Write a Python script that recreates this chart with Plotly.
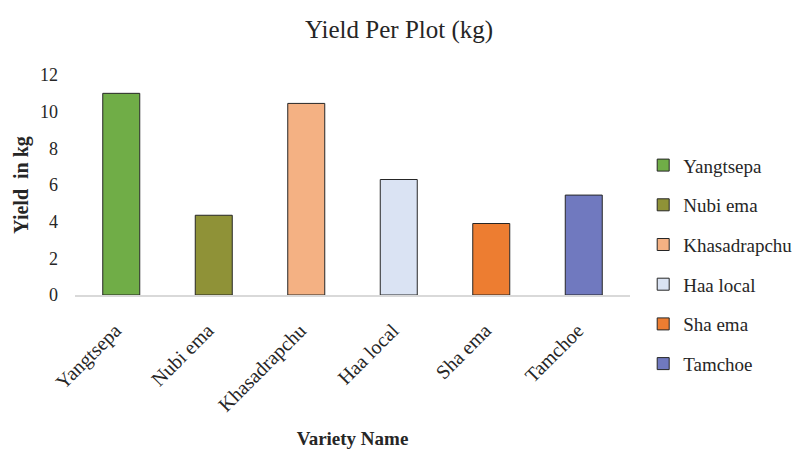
import plotly.graph_objects as go

# Yield per plot for each chilli variety
varieties = ["Yangtsepa", "Nubi ema", "Khasadrapchu", "Haa local", "Sha ema", "Tamchoe"]
yield_kg = [11.0, 4.35, 10.45, 6.3, 3.9, 5.45]
bar_colors = ["#70AD47", "#8F9237", "#F4B183", "#DAE3F3", "#ED7D31", "#7079BF"]
y_ticks = [0, 2, 4, 6, 8, 10, 12]

FONT = "Liberation Serif, Times New Roman, serif"
INK = "#262626"

fig = go.Figure()
for name, val, col in zip(varieties, yield_kg, bar_colors):
    fig.add_trace(go.Bar(
        x=[name], y=[val], name=name, legendgroup=name,
        marker=dict(color=col, line=dict(color=INK, width=1)),
        width=0.4,
    ))

fig.update_layout(
    width=798, height=450,
    margin=dict(l=75, r=168, t=75, b=155, autoexpand=False),
    paper_bgcolor="white", plot_bgcolor="white",
    font=dict(family=FONT, color=INK, size=18),
    title=dict(text="Yield Per Plot (kg)", x=0.5, xref="container", xanchor="center",
               y=0.935, yanchor="middle", font=dict(family=FONT, size=25, color=INK)),
    barmode="overlay",
    showlegend=True,
    legend=dict(x=0.806, xanchor="left", xref="container",
                y=0.675, yanchor="top", yref="container",
                font=dict(family=FONT, size=19, color=INK),
                tracegroupgap=12, itemwidth=30, maxheight=1.0,
                bgcolor="rgba(0,0,0,0)"),
    xaxis=dict(categoryorder="array", categoryarray=varieties,
               tickangle=-45, showgrid=False, zeroline=False,
               showline=True, linecolor="#D9D9D9", linewidth=2,
               ticks="", ticklabelstandoff=14, ticklabelshift=-6, automargin=False,
               tickfont=dict(family=FONT, size=20, color=INK),
               title=dict(text="<b>Variety Name</b>", standoff=16,
                          font=dict(family=FONT, size=19, color=INK))),
    yaxis=dict(range=[0, 12], tickvals=y_ticks, showgrid=False, zeroline=False,
               showline=False, ticks="", ticklabelstandoff=16, automargin=False,
               tickfont=dict(family=FONT, size=18, color=INK),
               title=dict(text="<b>Yield  in kg</b>", standoff=6,
                          font=dict(family=FONT, size=20, color=INK))),
)

fig.write_html("out.html")
